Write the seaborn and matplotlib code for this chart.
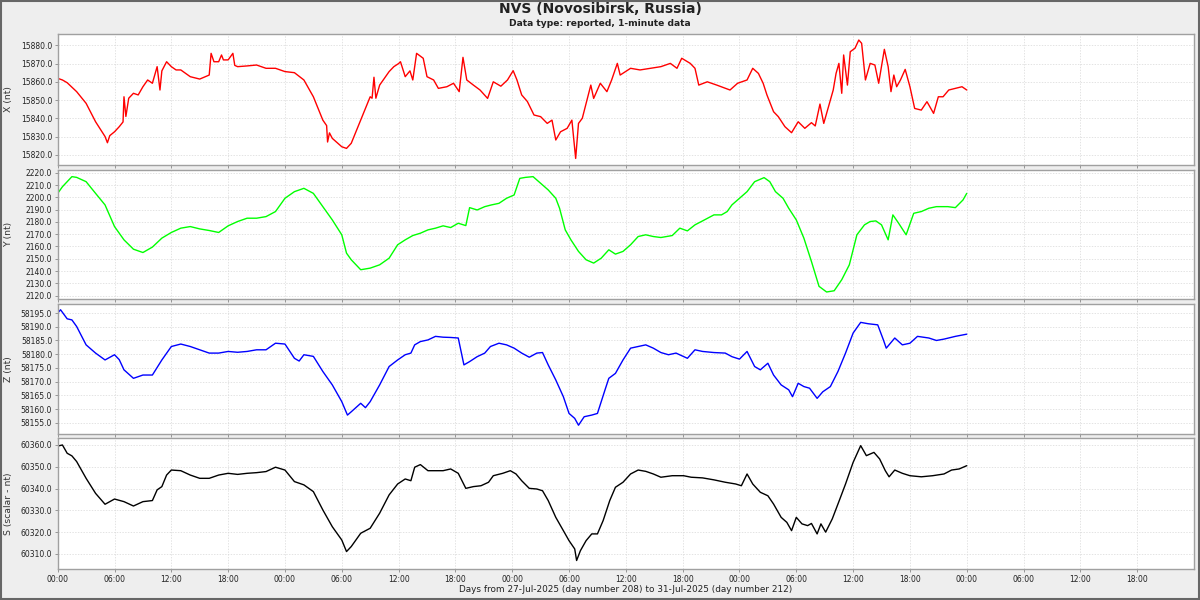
import matplotlib
matplotlib.use("Agg")
import matplotlib.pyplot as plt
import seaborn as sns
import pandas as pd
from matplotlib.patches import Rectangle
from matplotlib.ticker import FixedLocator, FuncFormatter

# ---------------- data (hours since 27-Jul-2025 00:00 UT) ----------------
x_hours = [0, 0.5, 1, 2, 3, 4, 5, 5.25, 5.5, 6, 6.5, 6.9, 7.0, 7.2, 7.5, 8, 8.5, 9, 9.5, 10,
           10.5, 10.8, 11, 11.5, 12, 12.5, 13, 14, 15, 16, 16.2, 16.5, 17, 17.3, 17.5, 18,
           18.5, 18.7, 19, 20, 21, 22, 23, 24, 25, 26, 27, 28, 28.4, 28.5, 28.7, 29, 30,
           30.5, 31, 32, 33, 33.2, 33.4, 33.6, 34, 35, 35.5, 36, 36.2, 36.7, 37.2, 37.5,
           37.9, 38.6, 39, 39.7, 40.2, 41.1, 41.8, 42.4, 42.8, 43.2, 43.9, 44.6, 45.4, 46,
           46.8, 47.5, 48.1, 48.5, 49, 49.6, 50.3, 51, 51.7, 52.2, 52.6, 53.1, 53.8, 54.3,
           54.7, 55, 55.4, 55.9, 56.3, 56.6, 57.3, 58, 58.5, 59.1, 59.4, 60.5, 61.5, 62.6,
           63.7, 64.7, 65.4, 65.9, 66.8, 67.3, 67.7, 68.6, 69.6, 71, 71.8, 72.8, 73.4, 74,
           74.5, 74.9, 75.6, 76.1, 76.8, 77.5, 78.2, 78.9, 79.6, 80, 80.5, 80.9, 81.5, 81.9,
           82.2, 82.5, 82.8, 83.0, 83.4, 83.7, 84.2, 84.6, 84.9, 85.3, 85.8, 86.3, 86.7,
           87.3, 87.7, 88, 88.3, 88.6, 89, 89.5, 90, 90.5, 91.2, 91.8, 92.5, 93, 93.5, 94.1,
           94.8, 95.5, 96]
x_vals = [15861.9, 15861, 15859.5, 15854.6, 15848.2, 15838.1, 15830, 15826.6, 15830.5,
          15832.6, 15835.4, 15838, 15851.8, 15841, 15851, 15853.7, 15852.8, 15857.3, 15861,
          15859.2, 15868.3, 15855.5, 15866, 15871, 15868.3, 15866.5, 15866.5, 15862.8,
          15861.5, 15863.7, 15875.6, 15871, 15871, 15874.7, 15872, 15872, 15875.6, 15869,
          15868.3, 15868.7, 15869.2, 15867.4, 15867.4, 15865.6, 15865, 15861, 15851.8,
          15839, 15836, 15827, 15832, 15829, 15824.4, 15823.5, 15826.3, 15839, 15851.8,
          15851, 15862.5, 15851, 15858.2, 15865.6, 15868.3, 15870, 15871, 15862.8, 15866,
          15861, 15875.6, 15872.9, 15862.8, 15861, 15856.4, 15857.3, 15859.2, 15854.6,
          15873.4, 15861, 15858.2, 15855.5, 15850.9, 15860, 15857.6, 15861, 15866.1, 15861,
          15852.8, 15849.2, 15841.8, 15840.9, 15837.2, 15839, 15828.1, 15832.6, 15834.5,
          15839, 15818, 15837.2, 15840, 15850, 15858.2, 15850.9, 15859.2, 15854.6, 15861,
          15870.1, 15863.7, 15867.4, 15866.5, 15867.4, 15868.3, 15870.1, 15867.4, 15872.9,
          15870.1, 15867.4, 15858.2, 15860, 15858.2, 15855.5, 15859.2, 15861, 15867.4,
          15864.6, 15859.2, 15852.8, 15843.6, 15840.9, 15835.4, 15832.1, 15838.1, 15834.5,
          15837.6, 15835.8, 15847.8, 15837.2, 15848.2, 15855.5, 15864.6, 15870.1, 15853.7,
          15874.7, 15858.2, 15876.5, 15878.4, 15882.9, 15881.1, 15861, 15870.1, 15869.2,
          15859.2, 15877.8, 15868.3, 15854.6, 15863.7, 15857.3, 15861, 15866.8, 15857.3,
          15845.4, 15844.5, 15849.1, 15842.7, 15851.8, 15851.8, 15855.5, 15856.4, 15857.3,
          15855.5]

y_hours = [0, 0.5, 1, 1.5, 2, 3, 4, 5, 6, 7, 8, 9, 10, 11, 12, 13, 14, 15, 16, 17, 18, 19,
           20, 21, 22, 23, 24, 25, 26, 27, 28, 29, 30, 30.5, 31, 32, 33, 34, 35, 35.9, 36.7,
           37.5, 38.3, 39.1, 39.9, 40.7, 41.5, 42.3, 43.1, 43.5, 44.3, 45.1, 45.8, 46.6,
           47.4, 48.2, 48.8, 49.4, 50.2, 51, 51.8, 52.6, 53, 53.6, 54.2, 55, 55.8, 56.6,
           57.4, 58.2, 58.9, 59.7, 60.5, 61.3, 62.1, 62.9, 63.7, 64.9, 65.7, 66.5, 67.3,
           68.1, 69.3, 70.1, 70.7, 71.2, 72, 72.8, 73.6, 74.6, 75.2, 75.8, 76.6, 77.2, 78,
           78.8, 79.6, 80.4, 81.2, 82, 82.8, 83.6, 84.4, 85.2, 85.8, 86.4, 87, 87.7, 88.2,
           88.8, 89.6, 90.4, 91.2, 92, 92.8, 94, 94.8, 95.6, 96]
y_vals = [2203.2, 2208.6, 2212.7, 2216.8, 2216.2, 2212.7, 2203.2, 2193.8, 2176.2, 2165.4,
          2157.8, 2155.1, 2159.5, 2166.8, 2171.4, 2174.9, 2176.2, 2174.3, 2173, 2171.4,
          2176.8, 2180.3, 2183, 2183, 2184.3, 2188.4, 2199.2, 2204.6, 2207.3, 2203.2, 2192.4,
          2181.6, 2169.5, 2154.6, 2149.2, 2141.1, 2142.4, 2145.1, 2150.5, 2161.4, 2165.4,
          2168.9, 2170.8, 2173.5, 2174.9, 2176.8, 2175.4, 2178.9, 2177, 2191.6, 2189.7,
          2192.4, 2193.8, 2195.1, 2199.2, 2201.9, 2215.4, 2216.2, 2216.8, 2211.4, 2206,
          2199.2, 2191.1, 2173.5, 2165.4, 2156, 2149.2, 2146.5, 2150.5, 2157.3, 2153.8, 2156,
          2161.4, 2168.1, 2169.5, 2168.1, 2167.3, 2168.9, 2174.9, 2172.7, 2177.6, 2180.8,
          2185.7, 2185.7, 2188.4, 2193.8, 2199.2, 2204.6, 2212.7, 2216, 2212.7, 2204.6,
          2199.2, 2191.1, 2181.6, 2166.8, 2147.8, 2127.6, 2123, 2124, 2133, 2145.1, 2169.5,
          2177.6, 2180.3, 2180.8, 2177.6, 2165.4, 2185.7, 2179, 2169.5, 2187, 2188.4, 2191.1,
          2192.4, 2192.4, 2191.6, 2197.8, 2203.2]

z_hours = [0, 0.3, 1, 1.5, 2, 3, 4, 5, 6, 6.5, 7, 8, 9, 10, 11, 12, 13, 14, 15, 16, 17, 18,
           19, 20, 21, 22, 23, 24, 25, 25.5, 26, 27, 28, 29, 30, 30.6, 31, 32, 32.5, 33, 34,
           35, 35.9, 36.7, 37.3, 37.7, 38.3, 39.1, 39.9, 40.7, 41.5, 42.3, 42.9, 43.5, 44.3,
           45.1, 45.7, 46.6, 47.4, 48.2, 49, 49.8, 50.6, 51.2, 51.8, 52.6, 53.4, 54, 54.6,
           55, 55.6, 56.4, 57, 57.8, 58.2, 58.9, 59.7, 60.5, 61.3, 62.1, 62.9, 63.7, 64.5,
           65.3, 66.5, 67.3, 68.1, 69.3, 70.5, 71.2, 72, 72.8, 73.6, 74.2, 75, 75.6, 76.4,
           77.2, 77.6, 78.2, 78.8, 79.4, 80.2, 80.8, 81.6, 82.4, 83.2, 84, 84.8, 85.6, 86.6,
           87.2, 87.5, 88.4, 89.2, 90, 90.8, 92, 92.8, 93.6, 94.8, 96]
z_vals = [58195, 58196.2, 58192.9, 58192.5, 58190.1, 58183.4, 58180.4, 58177.9, 58179.8,
          58178, 58174.3, 58171.2, 58172.4, 58172.4, 58177.9, 58182.8, 58183.7, 58182.8,
          58181.6, 58180.4, 58180.4, 58181, 58180.7, 58181, 58181.6, 58181.6, 58184, 58183.7,
          58178.5, 58177.5, 58179.8, 58179.2, 58173.7, 58168.8, 58162.7, 58157.8, 58159,
          58162.1, 58160.5, 58162.7, 58168.8, 58175.5, 58177.9, 58179.8, 58180.4, 58183.4,
          58184.6, 58185.2, 58186.5, 58186.2, 58186.1, 58185.9, 58176.1, 58177.3, 58179.1,
          58180.4, 58182.8, 58184, 58183.4, 58182.2, 58180.4, 58178.9, 58180.4, 58180.6,
          58176.1, 58170.6, 58164.5, 58158.4, 58156.6, 58154.1, 58157.2, 58157.8, 58158.4,
          58167, 58171.2, 58173, 58177.9, 58182.2, 58182.8, 58183.4, 58182.2, 58180.6,
          58179.8, 58180.4, 58178.5, 58181.6, 58181, 58180.6, 58180.4, 58179.1, 58178.2,
          58181, 58175.5, 58174.3, 58176.7, 58172.4, 58168.8, 58167, 58164.5, 58169.4,
          58168.2, 58167.6, 58163.9, 58166.3, 58168.2, 58173.7, 58180.4, 58187.7, 58191.6,
          58191.1, 58190.7, 58185.2, 58182.2, 58185.9, 58183.4, 58184, 58186.5, 58185.9,
          58185, 58185.5, 58186.5, 58187.3]

s_hours = [0, 0.5, 1, 1.5, 2, 3, 4, 5, 6, 7, 8, 9, 10, 10.5, 11, 11.5, 12, 13, 14, 15, 16,
           17, 18, 19, 20, 21, 22, 23, 24, 25, 26, 27, 28, 29, 30, 30.5, 31, 32, 33, 34, 35,
           35.9, 36.7, 37.3, 37.7, 38.3, 39.1, 39.9, 40.7, 41.5, 42.3, 43.1, 43.9, 44.7,
           45.5, 46, 47, 47.8, 48.4, 49, 49.8, 50.6, 51.2, 51.8, 52.6, 53.4, 54, 54.6, 54.8,
           55.2, 55.8, 56.4, 57, 57.6, 58.3, 58.9, 59.7, 60.5, 61.3, 62.1, 62.9, 63.7, 64.9,
           66.1, 66.9, 68.1, 69.3, 70.5, 71.6, 72.2, 72.8, 73.4, 74.2, 75, 75.6, 76.4, 77,
           77.5, 78, 78.6, 79.2, 79.6, 80.2, 80.6, 81.1, 81.8, 82.6, 83.2, 84, 84.8, 85.4,
           86.2, 86.8, 87.4, 87.8, 88.4, 89.2, 90, 91.2, 92.4, 93.6, 94.4, 95.2, 96]
s_vals = [60359.5, 60360, 60356.2, 60355, 60352.4, 60344.7, 60337.8, 60332.8, 60335.2,
          60334, 60332, 60334, 60334.5, 60339.4, 60340.9, 60346.2, 60348.5, 60348.2, 60346.2,
          60344.7, 60344.7, 60346.2, 60347, 60346.5, 60347, 60347.3, 60347.8, 60349.8,
          60348.5, 60343.2, 60341.7, 60338.6, 60330.2, 60322.5, 60316.4, 60311.1, 60313.4,
          60319.5, 60321.8, 60328.7, 60337.1, 60342.1, 60344.4, 60343.6, 60349.8, 60351,
          60348.2, 60348.2, 60348.2, 60349, 60347, 60340.1, 60340.9, 60341.3, 60342.9,
          60345.9, 60347, 60348.2, 60346.7, 60343.6, 60340.1, 60339.8, 60339, 60334.5,
          60326.8, 60320.7, 60316.1, 60312.3, 60307, 60311.5, 60316.1, 60319.2, 60319.2,
          60325.3, 60334.5, 60340.6, 60342.9, 60346.7, 60348.5, 60347.9, 60346.7, 60345.2,
          60345.9, 60345.9, 60345.2, 60344.9, 60344, 60342.9, 60342.1, 60341.3, 60346.7,
          60342.1, 60338.3, 60336.7, 60332.9, 60326.8, 60324.5, 60320.7, 60326.8, 60323.8,
          60323, 60324, 60319.2, 60323.8, 60320, 60326.1, 60335.2, 60342.1, 60352, 60359.7,
          60355.1, 60356.6, 60353.6, 60348.2, 60345.4, 60348.5, 60347, 60345.9, 60345.4,
          60345.9, 60346.7, 60348.5, 60349, 60350.5]

panel_labels = ["X (nt)", "Y (nt)", "Z (nt)", "S (scalar - nt)"]
panel_colors = ["#ff0000", "#00ff00", "#0000ff", "#000000"]
x_tick_labels = ["00:00", "06:00", "12:00", "18:00"]
title_text = "NVS (Novosibirsk, Russia)"
subtitle_text = "Data type: reported, 1-minute data"
xlabel_text = "Days from 27-Jul-2025 (day number 208) to 31-Jul-2025 (day number 212)"

# ---------------- figure ----------------
sns.set_theme(style="whitegrid")
plt.rcParams["font.family"] = ["DejaVu Sans"]

fig = plt.figure(figsize=(12, 6), dpi=100, facecolor="#eeeeee")

W, H = 1200.0, 600.0
left_px, right_px = 57.7, 1194.0
panel_px = [(34, 165), (170, 299), (304, 434), (438, 569)]
ylims = [(15814.4, 15886.2), (2117.3, 2222.2), (58150.9, 58198.3), (60303.1, 60363.2)]
yticks = [list(range(15820, 15881, 10)), list(range(2120, 2221, 10)),
          list(range(58155, 58196, 5)), list(range(60310, 60361, 10))]

series = [(x_hours, x_vals), (y_hours, y_vals), (z_hours, z_vals), (s_hours, s_vals)]

axes = []
for i, ((top, bot), (hrs, vals)) in enumerate(zip(panel_px, series)):
    ax = fig.add_axes([left_px / W, 1 - bot / H, (right_px - left_px) / W, (bot - top) / H])
    ax.set_facecolor("white")
    df = pd.DataFrame({"hours": hrs, "value": vals})
    sns.lineplot(data=df, x="hours", y="value", ax=ax, color=panel_colors[i],
                 linewidth=1.0, estimator=None, sort=True)
    ax.set_xlim(0, 120)
    ax.set_ylim(*ylims[i])
    ax.yaxis.set_major_locator(FixedLocator(yticks[i]))
    ax.yaxis.set_major_formatter(FuncFormatter(lambda v, p: f"{v:.1f}"))
    ax.xaxis.set_major_locator(FixedLocator(list(range(0, 115, 6))))
    ax.grid(True, color="#d8d8d8", linestyle=(0, (2, 2)), linewidth=0.5)
    for sp in ax.spines.values():
        sp.set_color("#a0a0a0")
        sp.set_linewidth(1.0)
    ax.tick_params(axis="y", labelsize=5.5, length=2, width=0.6, color="#888888",
                   pad=2, labelcolor="#222222", left=True)
    ax.tick_params(axis="x", labelsize=5.5, length=2, width=0.6, color="#888888",
                   pad=2, labelcolor="#222222", bottom=True)
    ax.set_ylabel(panel_labels[i], fontsize=6.7, color="#333333")
    ax.yaxis.set_label_coords((13 - left_px) / (right_px - left_px), 0.5)
    ax.set_xlabel("")
    if i < 3:
        ax.tick_params(axis="x", labelbottom=False)
    axes.append(ax)

bottom_ax = axes[-1]
bottom_ax.xaxis.set_major_formatter(
    FuncFormatter(lambda v, p: x_tick_labels[int(round(v / 6)) % 4]))
bottom_ax.set_xlabel(xlabel_text, fontsize=6.4, color="#222222", labelpad=1)

fig.text(0.5, 1 - 9 / H, title_text, ha="center", va="center",
         fontsize=10, fontweight="bold", color="#222222")
fig.text(0.5, 1 - 23 / H, subtitle_text, ha="center", va="center",
         fontsize=6.6, fontweight="bold", color="#222222")

fig.patches.append(Rectangle((0.001, 0.002), 0.998, 0.996, transform=fig.transFigure,
                             fill=False, edgecolor="#666666", linewidth=1.5))

fig.savefig("out.png", dpi=100, facecolor=fig.get_facecolor())
